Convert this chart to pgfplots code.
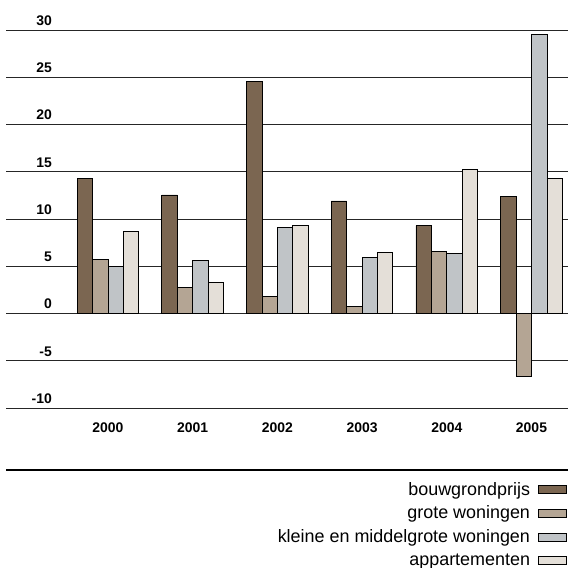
\documentclass[border=0pt]{standalone}
\usepackage{fontspec}
\setmainfont{Liberation Sans}
\usepackage{pgfplots}
\pgfplotsset{compat=1.18}
\definecolor{cbouw}{HTML}{7B6651}
\definecolor{cgrote}{HTML}{B4A594}
\definecolor{ckleine}{HTML}{C0C4C7}
\definecolor{capp}{HTML}{E4DFD8}
\begin{document}
\begin{tikzpicture}
\useasboundingbox (0,0) rectangle (568bp,568bp);
\begin{axis}[
  at={(6bp,160bp)}, anchor=south west,
  scale only axis, width=562bp, height=378bp,
  xmin=-1.204, xmax=5.431, ymin=-10, ymax=30,
  ybar=0pt, bar width=15.4bp,
  axis line style={draw=none},
  major tick length=0pt,
  ytick={-10,-5,0,5,10,15,20,25,30},
  yticklabels={-10,-5,0,5,10,15,20,25,30},
  xtick={0,1,2,3,4,5},
  xticklabels={2000,2001,2002,2003,2004,2005},
  ymajorgrids, grid style={black!85, line width=0.8bp},
  ticklabel style={font=\fontsize{14}{16}\selectfont\bfseries},
  yticklabel style={anchor=base east, inner sep=0pt, xshift=46bp, yshift=4.7bp},
  xticklabel style={anchor=base, inner sep=0pt, yshift=-24bp},
  every axis plot/.append style={draw=black, line width=0.8bp},
  legend image code/.code={\draw[#1,draw=black,line width=0.8bp] (0bp,-4bp) rectangle (28bp,4bp);},
  legend plot pos=right,
  legend cell align=right,
  legend style={at={(1,0)}, anchor=north east, xshift=-1bp, yshift=-74bp,
    draw=none, fill=none, inner sep=0pt, row sep=9.3bp,
    font=\fontsize{18}{20}\selectfont,
    nodes={inner sep=0pt, outer sep=0pt},
    column sep=8bp},
]
\addplot[fill=cbouw] coordinates {(0,14.3) (1,12.54) (2,24.56) (3,11.91) (4,9.3) (5,12.4)};
\addlegendentry{bouwgrondprijs}
\addplot[fill=cgrote] coordinates {(0,5.7) (1,2.78) (2,1.76) (3,0.74) (4,6.6) (5,-6.7)};
\addlegendentry{grote woningen}
\addplot[fill=ckleine] coordinates {(0,4.95) (1,5.57) (2,9.06) (3,5.92) (4,6.4) (5,29.5)};
\addlegendentry{kleine en middelgrote woningen}
\addplot[fill=capp] coordinates {(0,8.7) (1,3.31) (2,9.34) (3,6.45) (4,15.2) (5,14.25)};
\addlegendentry{appartementen}
\end{axis}
\draw[line width=2.2bp] (6bp,98bp) -- (568bp,98bp);
\end{tikzpicture}
\end{document}
